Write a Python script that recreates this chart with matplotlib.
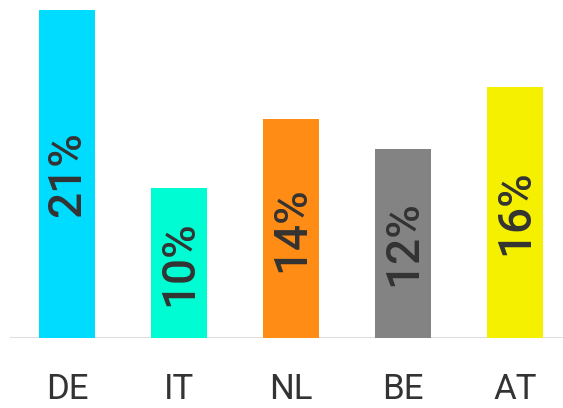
import matplotlib
matplotlib.use("Agg")
import matplotlib.pyplot as plt

countries = ["DE", "IT", "NL", "BE", "AT"]
shares = [21.0, 9.6, 14.0, 12.1, 16.1]
colors = ["#00dcff", "#00fcd2", "#ff8c14", "#838383", "#f4f000"]

plt.rcParams['font.family'] = ['Roboto', 'DejaVu Sans']

W, H = 563, 408
fig = plt.figure(figsize=(W / 100, H / 100), dpi=100)

# axes from the baseline (y=338px) to the top of the image
left_px, base_px = 10, 338
ax = fig.add_axes([left_px / W, (H - base_px) / H, 1 - left_px / W, base_px / H])

step = 112.0  # px between bar centres
first = 67.0  # px centre of first bar
ax.set_xlim((left_px - first) / step, (W - first) / step)
ax.set_ylim(0, 21.0 * base_px / 328)

bars = ax.bar(range(len(countries)), shares, width=0.5, color=colors, zorder=2)

for b, v in zip(bars, shares):
    ax.text(b.get_x() + b.get_width() / 2, v / 2, f"{v:.0f}%",
            rotation=90, ha='center', va='center', fontsize=33,
            fontweight='medium', color='#333333', zorder=3)

ax.axhline(0, color='#dedede', lw=2.2, zorder=1)

for s in ax.spines.values():
    s.set_visible(False)
ax.set_yticks([])
ax.set_xticks(range(len(countries)))
ax.set_xticklabels(countries, fontsize=25, fontweight='normal', color='#333333')
ax.tick_params(axis='x', length=0, pad=25)

fig.savefig("out.png", dpi=100)
